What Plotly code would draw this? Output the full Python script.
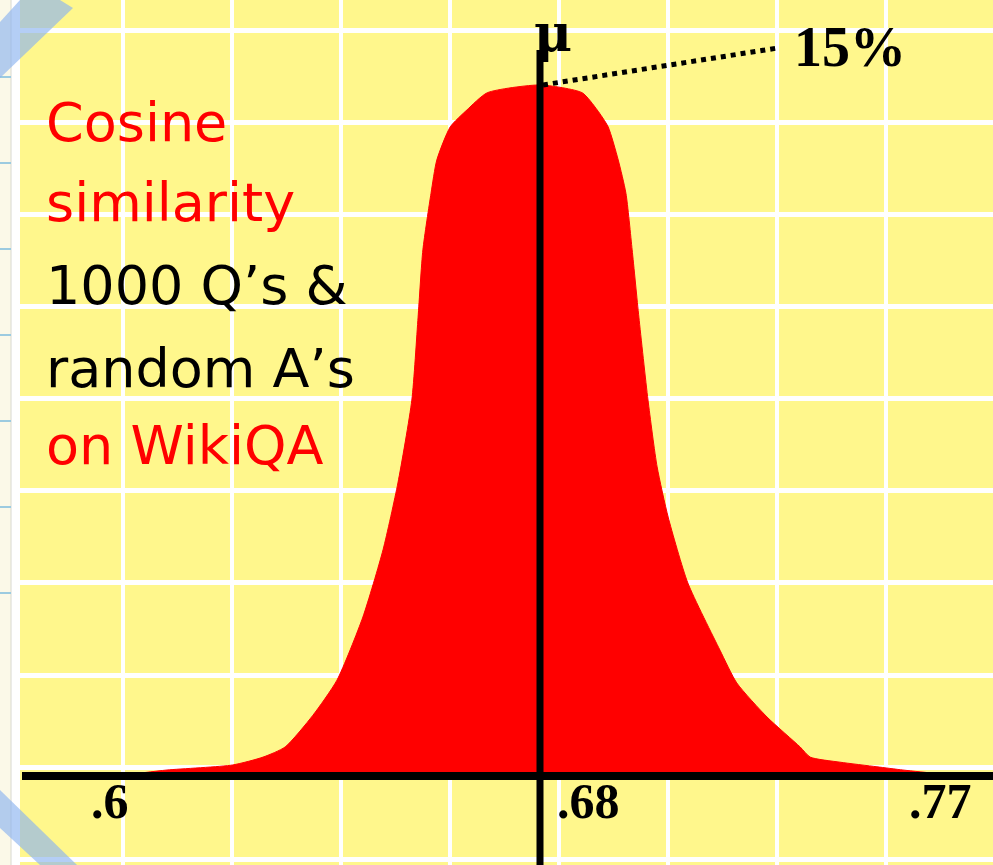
import plotly.graph_objects as go

# ---------------- data ----------------
# cosine similarity (x) vs. percentage of pairs (y)
sim_values = [0.5738, 0.5925, 0.6023, 0.6160, 0.6223, 0.6269, 0.6327, 0.6377,
              0.6431, 0.6473, 0.6504, 0.6533, 0.6546, 0.6556, 0.6573, 0.6585,
              0.6613, 0.6648, 0.6690, 0.6800, 0.6888, 0.6919, 0.6942, 0.6963,
              0.6979, 0.6992, 0.7006, 0.7025, 0.7044, 0.7067, 0.7108, 0.7175,
              0.7210, 0.7273, 0.7342, 0.7363, 0.7425, 0.7502, 0.7556, 0.7633,
              0.7738]
pct_values = [0.00, 0.02, 0.13, 0.24, 0.41, 0.63, 1.32, 2.08,
              3.45, 4.91, 6.36, 8.16, 9.96, 11.42, 12.65, 13.37,
              14.09, 14.46, 14.83, 15.00, 14.83, 14.46, 14.09, 13.37,
              12.65, 11.42, 9.96, 8.16, 6.71, 5.62, 4.19, 2.73,
              2.02, 1.28, 0.63, 0.41, 0.30, 0.20, 0.13, 0.05,
              0.00]
mean_value = 0.68
peak_value = 15
peak_label = "15%"
tick_values = [0.6, 0.68, 0.77]
tick_labels = [".6", ".68", ".77"]
text_lines = ["Cosine", "similarity", "1000 Q’s &", "random A’s", "on WikiQA"]
text_colors = ["#FF0000", "#FF0000", "#000000", "#000000", "#FF0000"]

# ---------------- layout geometry ----------------
W, H = 993, 865
ML, MR, MT, MB = 20, 0, 0, 0
PX_PER_X = 4800.0
PX_PER_Y = 46.07
X0_PX = 540   # pixel of mean
Y0_PX = 776   # pixel of zero line
plot_w = W - ML - MR
plot_h = H - MT - MB
x_range = [mean_value - (X0_PX - ML) / PX_PER_X, mean_value + (W - MR - X0_PX) / PX_PER_X]
y_range = [-(H - MB - Y0_PX) / PX_PER_Y, (Y0_PX - MT) / PX_PER_Y]

def px2paper_x(px):
    return (px - ML) / plot_w

def px2paper_y(py):
    return 1 - (py - MT) / plot_h

YELLOW = "#FFF78C"

fig = go.Figure()

# red filled distribution
fig.add_trace(go.Scatter(
    x=sim_values, y=pct_values, mode="lines", fill="tozeroy",
    fillcolor="#FF0000", line=dict(color="#FF0000", width=1, shape="spline", smoothing=0.6),
    hoverinfo="skip", showlegend=False))

# horizontal axis line
fig.add_trace(go.Scatter(
    x=[x_range[0] + 2 / PX_PER_X, x_range[1]], y=[0, 0], mode="lines",
    line=dict(color="black", width=8), hoverinfo="skip", showlegend=False))

# mean line
fig.add_trace(go.Scatter(
    x=[mean_value, mean_value], y=[y_range[0], peak_value + 0.76], mode="lines",
    line=dict(color="black", width=7), hoverinfo="skip", showlegend=False))

# dotted leader to peak label
fig.add_trace(go.Scatter(
    x=[mean_value + 3 / PX_PER_X, mean_value + 237 / PX_PER_X],
    y=[peak_value, peak_value + 0.8], mode="lines",
    line=dict(color="black", width=5, dash="dot"), hoverinfo="skip", showlegend=False))

annotations = []
# peak label
annotations.append(dict(x=mean_value + 252 / PX_PER_X, y=peak_value + 0.82, xref="x", yref="y",
                        text="<b>" + peak_label + "</b>", showarrow=False, xanchor="left",
                        yanchor="middle", font=dict(family="Liberation Serif", size=56, color="black")))
# mu
annotations.append(dict(x=px2paper_x(532), y=1, xref="paper", yref="paper", text="<b>μ</b>",
                        showarrow=False, xanchor="left", yanchor="top", yshift=0,
                        font=dict(family="DejaVu Serif", size=52, color="black")))
# tick labels
tick_shifts = [-46, 48, -32]
for tv, tl, sh in zip(tick_values, tick_labels, tick_shifts):
    annotations.append(dict(x=tv, y=0, xref="x", yref="y", text="<b>" + tl + "</b>",
                            showarrow=False, xanchor="center", yanchor="top", xshift=sh, yshift=5,
                            font=dict(family="Liberation Serif", size=50, color="black")))
# text block
line_centers = [122, 202, 286, 368, 446]
for t, c, yc in zip(text_lines, text_colors, line_centers):
    annotations.append(dict(x=px2paper_x(44), y=px2paper_y(yc), xref="paper", yref="paper",
                            text=t, showarrow=False, xanchor="left", yanchor="middle",
                            font=dict(family="DejaVu Sans", size=54, color=c)))

# left strip decorations (slide thumbnail panel)
shapes = []
shapes.append(dict(type="rect", xref="paper", yref="paper",
                   x0=px2paper_x(0), x1=px2paper_x(11), y0=0, y1=1,
                   fillcolor="#FBF9E8", line=dict(width=0), layer="above"))
shapes.append(dict(type="line", xref="paper", yref="paper",
                   x0=px2paper_x(11), x1=px2paper_x(11), y0=0, y1=1,
                   line=dict(color="#D8D8D0", width=1), layer="above"))
for yy in [77, 163, 249, 335, 421, 507, 593]:
    shapes.append(dict(type="line", xref="paper", yref="paper",
                       x0=px2paper_x(0), x1=px2paper_x(11), y0=px2paper_y(yy), y1=px2paper_y(yy),
                       line=dict(color="#9CCBE0", width=2), layer="above"))

def poly(pts):
    p = "M " + " L ".join(f"{px2paper_x(a)},{px2paper_y(b)}" for a, b in pts) + " Z"
    return p

shapes.append(dict(type="path", xref="paper", yref="paper",
                   path=poly([(20, 0), (60, 0), (73, 8), (0, 78), (0, 22)]),
                   fillcolor="rgba(140,180,240,0.65)", line=dict(width=0), layer="above"))
shapes.append(dict(type="path", xref="paper", yref="paper",
                   path=poly([(0, 790), (77, 865), (40, 865), (0, 828)]),
                   fillcolor="rgba(140,180,240,0.65)", line=dict(width=0), layer="above"))

fig.update_layout(
    width=W, height=H, autosize=False,
    margin=dict(l=ML, r=MR, t=MT, b=MB, pad=0),
    paper_bgcolor="white", plot_bgcolor=YELLOW,
    showlegend=False,
    xaxis=dict(range=x_range, showgrid=True, gridcolor="white", gridwidth=4,
               tick0=mean_value + (123 - X0_PX) / PX_PER_X, dtick=109 / PX_PER_X,
               showticklabels=False, ticks="", zeroline=False, showline=False, fixedrange=True),
    yaxis=dict(range=y_range, showgrid=True, gridcolor="white", gridwidth=5,
               tick0=0.19, dtick=2.0, showticklabels=False, ticks="",
               zeroline=False, showline=False, fixedrange=True),
    annotations=annotations, shapes=shapes,
)

fig.write_html("out.html", config={"displayModeBar": False},
               post_script="document.body.style.margin='0';document.body.style.overflow='hidden';")
